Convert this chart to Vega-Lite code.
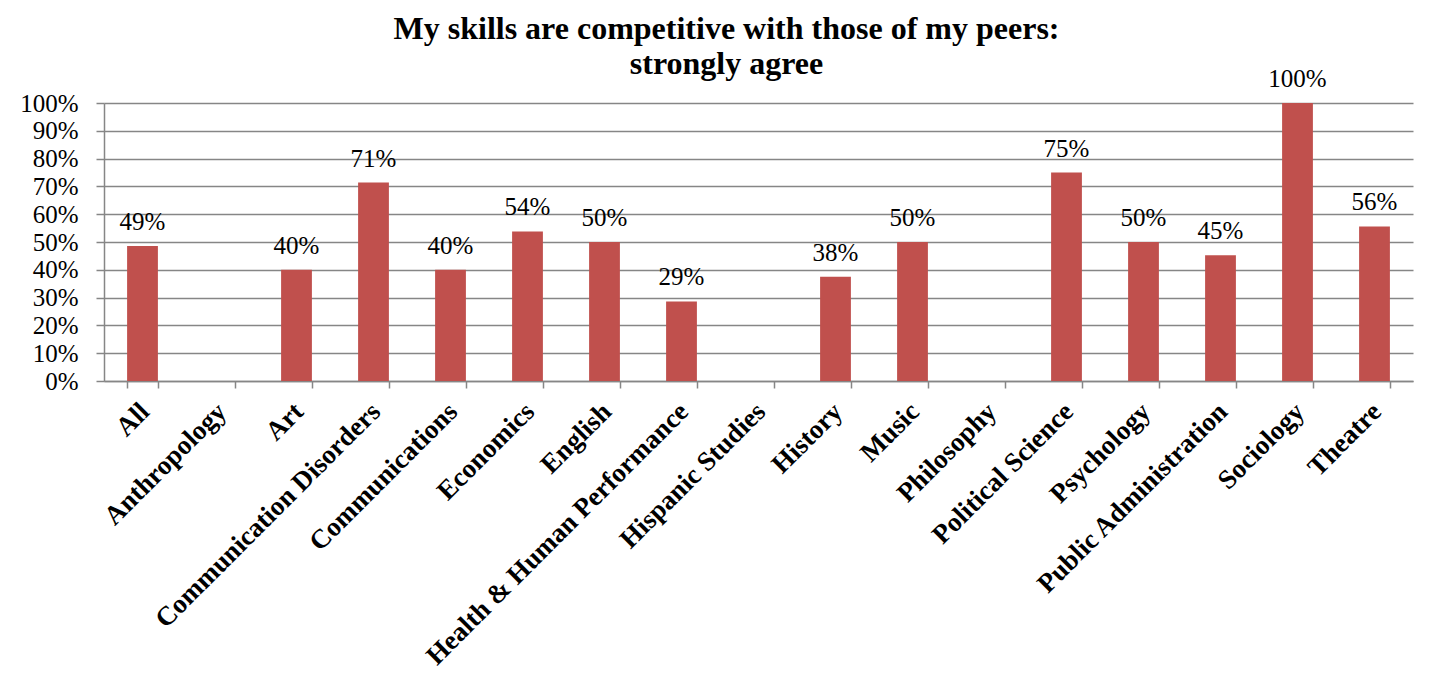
{
  "$schema": "https://vega.github.io/schema/vega-lite/v6.json",
  "width": 1309,
  "height": 278,
  "autosize": {"type": "none"},
  "padding": {"left": 104, "top": 103, "right": 35, "bottom": 292},
  "background": "white",
  "title": {
    "text": ["My skills are competitive with those of my peers:", "strongly agree"],
    "font": "Liberation Serif",
    "fontWeight": "bold",
    "fontSize": 32,
    "lineHeight": 35,
    "color": "black",
    "anchor": "middle",
    "dx": -32,
    "offset": -14
  },
  "data": {
    "values": [
      {"dept": "All", "value": 0.486},
      {"dept": "Anthropology", "value": null},
      {"dept": "Art", "value": 0.40},
      {"dept": "Communication Disorders", "value": 0.714},
      {"dept": "Communications", "value": 0.40},
      {"dept": "Economics", "value": 0.538},
      {"dept": "English", "value": 0.50},
      {"dept": "Health & Human Performance", "value": 0.286},
      {"dept": "Hispanic Studies", "value": null},
      {"dept": "History", "value": 0.375},
      {"dept": "Music", "value": 0.50},
      {"dept": "Philosophy", "value": null},
      {"dept": "Political Science", "value": 0.75},
      {"dept": "Psychology", "value": 0.50},
      {"dept": "Public Administration", "value": 0.452},
      {"dept": "Sociology", "value": 1.0},
      {"dept": "Theatre", "value": 0.556}
    ]
  },
  "encoding": {
    "x": {
      "field": "dept",
      "type": "nominal",
      "sort": null,
      "scale": {
        "domain": ["All", "Anthropology", "Art", "Communication Disorders", "Communications", "Economics", "English", "Health & Human Performance", "Hispanic Studies", "History", "Music", "Philosophy", "Political Science", "Psychology", "Public Administration", "Sociology", "Theatre"],
        "paddingInner": 0.6,
        "paddingOuter": 0.3
      },
      "axis": {
        "title": null,
        "labelAngle": -45,
        "labelFont": "Liberation Serif",
        "labelFontWeight": "bold",
        "labelFontSize": 27,
        "labelColor": "black",
        "labelPadding": 10,
        "labelOffset": -7,
        "labelLimit": 0,
        "labelOverlap": false,
        "tickBand": "extent",
        "tickSize": 7,
        "tickColor": "#868686",
        "tickWidth": 1.5,
        "domainColor": "#868686",
        "domainWidth": 1.5,
        "grid": false
      }
    },
    "y": {
      "field": "value",
      "type": "quantitative",
      "scale": {"domain": [0, 1]},
      "axis": {
        "title": null,
        "format": ".0%",
        "values": [0, 0.1, 0.2, 0.3, 0.4, 0.5, 0.6, 0.7, 0.8, 0.9, 1.0],
        "labelFont": "Liberation Serif",
        "labelFontSize": 25,
        "labelColor": "black",
        "labelPadding": 18,
        "labelOverlap": false,
        "tickSize": 8,
        "tickColor": "#868686",
        "tickWidth": 1.5,
        "domainColor": "#868686",
        "domainWidth": 1.5,
        "grid": true,
        "gridColor": "#868686",
        "gridWidth": 1.5
      }
    }
  },
  "layer": [
    {
      "mark": {"type": "bar", "color": "#C0504D"}
    },
    {
      "transform": [{"filter": "datum.value != null"}],
      "mark": {
        "type": "text",
        "font": "Liberation Serif",
        "fontSize": 25,
        "color": "black",
        "baseline": "alphabetic",
        "dy": -16
      },
      "encoding": {
        "text": {"field": "value", "type": "quantitative", "format": ".0%"}
      }
    }
  ],
  "config": {
    "font": "Liberation Serif",
    "view": {"stroke": null}
  }
}
